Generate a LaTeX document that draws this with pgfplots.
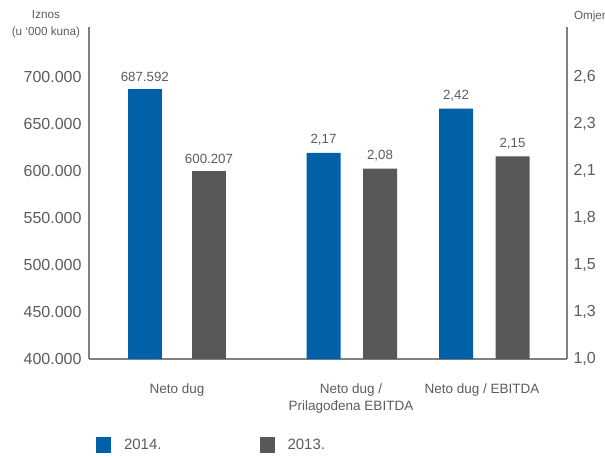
\documentclass[border=0pt]{standalone}
\usepackage{fontspec}
\setmainfont{Liberation Sans}
\usepackage{pgfplots}
\pgfplotsset{compat=1.18}
\definecolor{cblue}{HTML}{0061A8}
\definecolor{cgray}{HTML}{58585A}
\definecolor{ctext}{HTML}{5C5C5C}
\definecolor{caxis}{HTML}{808080}

\pgfplotsset{
  ybar legend/.style={legend image code/.code={\fill[##1] (0pt,-8pt) rectangle (15pt,8pt);}},
  base/.style={
    scale only axis, width=478pt, height=332pt,
    xmin=89, xmax=567,
    ybar, bar width=34pt, bar shift=0pt,
    axis line style={draw=caxis, line width=1.2pt, -},
    major tick length=0pt,
    tick label style={text=ctext, font=\fontsize{16}{18}\selectfont},
    clip=false,
    every node near coord/.append style={text=ctext, font=\fontsize{13.3}{15}\selectfont, yshift=4pt},
  }
}

\begin{document}
\begin{tikzpicture}
\path[use as bounding box] (-89pt,-97pt) rectangle (516pt,359pt);

% left scale: Neto dug (u '000 kuna)
\begin{axis}[base,
  ymin=400000, ymax=753191,
  axis x line*=bottom, axis y line*=left,
  ytick={400000,450000,500000,550000,600000,650000,700000},
  scaled y ticks=false,
  yticklabel={\pgfmathprintnumber[fixed,1000 sep={.},assume math mode=true]{\tick}},
  yticklabel style={xshift=-4pt},
  xtick={177,351,482},
  xticklabels={Neto dug, {Neto dug /\\Prilagođena EBITDA}, Neto dug / EBITDA},
  xticklabel style={align=center, font=\fontsize{13.5}{17}\selectfont, yshift=-21pt},
  nodes near coords={\pgfmathprintnumber[fixed,1000 sep={.},assume math mode=true]{\pgfplotspointmeta}},
  legend columns=2,
  legend style={draw=none, fill=none, at={(0.008,-0.26)}, anchor=west,
    font=\fontsize{15}{17}\selectfont, text=ctext,
    /tikz/every odd column/.append style={column sep=11pt},
    /tikz/every even column/.append style={column sep=96pt}},
]
\addplot[fill=cblue, draw=none] coordinates {(144.8,687592)};
\addplot[fill=cgray, draw=none] coordinates {(209,600207)};
\legend{2014., 2013.}
\node[align=center, font=\fontsize{11.7}{17}\selectfont, text=ctext] at (axis description cs:-0.09,1.0075) {Iznos\\(u ‘000 kuna)};
\end{axis}

% right scale: omjeri
\begin{axis}[base,
  ymin=1, ymax=2.8837,
  axis x line=none, axis y line*=right,
  xtick=\empty,
  ytick={1,1.2667,1.5333,1.8,2.0667,2.3333,2.6},
  yticklabels={{1,0},{1,3},{1,5},{1,8},{2,1},{2,3},{2,6}},
  yticklabel style={xshift=3pt},
  nodes near coords={\pgfmathprintnumber[fixed,fixed zerofill,precision=2,use comma,assume math mode=true]{\pgfplotspointmeta}},
]
\addplot[fill=cblue, draw=none] coordinates {(323.5,2.17) (456,2.42)};
\addplot[fill=cgray, draw=none] coordinates {(380,2.08) (512.5,2.15)};
\node[font=\fontsize{11.7}{14}\selectfont, text=ctext] at (axis description cs:1.048,1.033) {Omjer};
\end{axis}
\end{tikzpicture}
\end{document}
